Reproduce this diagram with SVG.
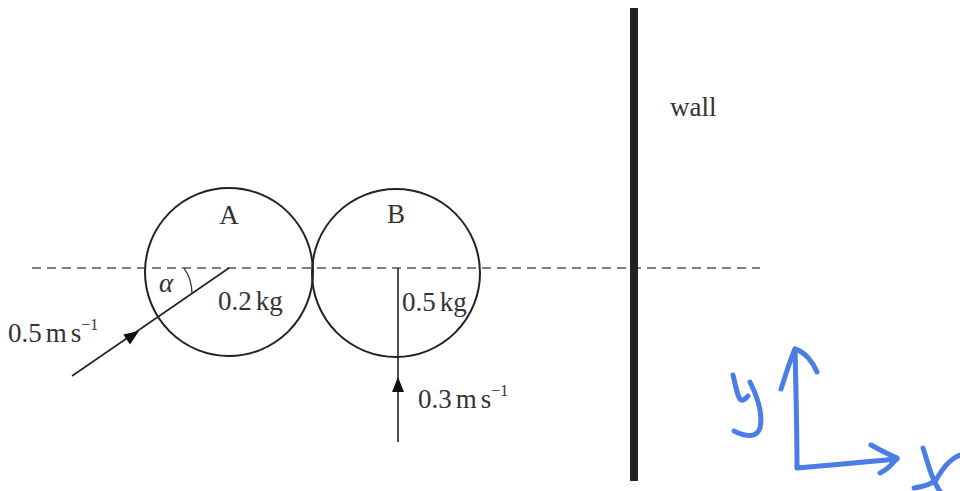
<svg xmlns="http://www.w3.org/2000/svg" width="960" height="491" viewBox="0 0 960 491">
<style>
.ln{stroke:#222;stroke-width:2;fill:none}
.t{font-family:"Liberation Serif","Times New Roman",serif;font-size:27px;fill:#333}
.sup{font-size:16px}
.hw{stroke:#4a7de6;stroke-width:5;fill:none;stroke-linecap:round;stroke-linejoin:round}
</style>
<defs>
<polygon id="ah" points="0,0 -15,-6 -15,6" fill="#111"/>
</defs>
<rect width="960" height="491" fill="#fff"/>
<g id="axis">
<line x1="32" y1="268" x2="760" y2="268" stroke="#555" stroke-width="1.3" stroke-dasharray="9,6"/>
</g>
<g id="ballA">
<circle cx="229" cy="272" r="84" class="ln"/>
<text class="t" x="229" y="224" text-anchor="middle">A</text>
<text class="t" x="218" y="310">0.2<tspan dx="4">kg</tspan></text>
</g>
<g id="ballB">
<circle cx="396" cy="273" r="84" class="ln"/>
<text class="t" x="396" y="223" text-anchor="middle">B</text>
<text class="t" x="402" y="311">0.5<tspan dx="4">kg</tspan></text>
</g>
<g id="wall">
<rect x="630" y="8" width="8" height="473" fill="#222"/>
<text class="t" x="670" y="116">wall</text>
</g>
<g id="connectors">
<line x1="72" y1="376" x2="229" y2="268" stroke="#222" stroke-width="1.6"/>
<use href="#ah" transform="translate(139,331) rotate(-34.5)"/>
<path d="M184,268 A45,45 0 0 1 192,294" stroke="#333" stroke-width="1.3" fill="none"/>
<line x1="398" y1="268" x2="398" y2="442" stroke="#222" stroke-width="1.6"/>
<use href="#ah" transform="translate(398,377) rotate(-90)"/>
</g>
<g id="labels">
<text class="t" x="159" y="292" font-style="italic">α</text>
<text class="t" x="8" y="342">0.5<tspan dx="4">m</tspan><tspan dx="4">s</tspan><tspan class="sup" dy="-12">−1</tspan></text>
<text class="t" x="418" y="408">0.3<tspan dx="4">m</tspan><tspan dx="4">s</tspan><tspan class="sup" dy="-12">−1</tspan></text>
</g>
<g id="handwriting">
<path class="hw" d="M733,375 C736,388 738,398 741,400 C744,401 746,398 748,396"/>
<path class="hw" d="M750,382 C758,398 763,415 760,428 C757,437 748,438 734,431"/>
<path class="hw" d="M795,349 C796,390 797,430 797,468 C830,465 865,462 897,459"/>
<path class="hw" d="M781,389 C786,374 790,360 795,349 C805,352 813,362 817,372"/>
<path class="hw" d="M871,445 C880,450 890,455 897,458 C892,465 886,470 880,473"/>
<path class="hw" d="M923,448 C927,460 930,472 933,478 C936,485 938,489 940,491"/>
<path class="hw" d="M914,488 C922,487 930,485 936,480 C942,470 948,460 960,455"/>
</g>
</svg>
